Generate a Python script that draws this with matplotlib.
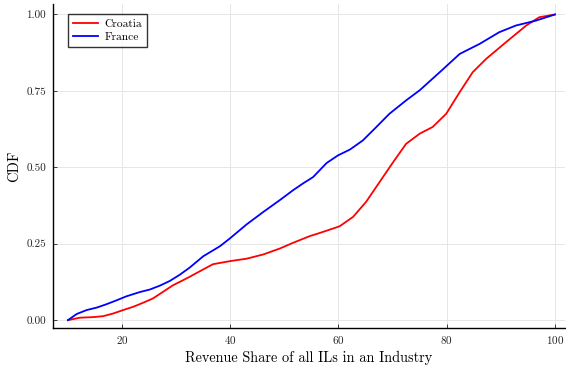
import matplotlib
matplotlib.use("Agg")
import matplotlib.pyplot as plt
from matplotlib.ticker import FormatStrFormatter

plt.rcParams['font.family'] = ['cmr10', 'DejaVu Serif']
plt.rcParams['mathtext.fontset'] = 'cm'
plt.rcParams['axes.formatter.use_mathtext'] = True

# smoothed empirical CDFs of revenue share
croatia_x = [10, 12.2, 14.7, 16.5, 18.4, 20.2, 22.1, 23.9, 25.7, 27.6, 29.4, 31.3, 32.5,
             35.0, 36.8, 39.9, 43.0, 46.1, 49.1, 51.6, 54.7, 56.5, 60.2, 62.7, 65.1,
             67.6, 70.1, 72.5, 75.0, 77.4, 79.9, 82.4, 84.8, 87.3, 91.0, 94.7, 97.1, 100]
croatia_y = [0, 0.008, 0.010, 0.013, 0.022, 0.033, 0.044, 0.057, 0.071, 0.093, 0.114,
             0.131, 0.142, 0.166, 0.183, 0.193, 0.201, 0.215, 0.234, 0.253, 0.275, 0.285,
             0.307, 0.338, 0.387, 0.452, 0.517, 0.577, 0.610, 0.632, 0.675, 0.746, 0.811,
             0.855, 0.910, 0.964, 0.991, 1.0]
france_x = [10, 11.6, 13.45, 15.3, 17.1, 19.0, 20.8, 23.3, 25.1, 27.0, 28.8, 30.7, 32.5,
            35.0, 38.1, 39.9, 43.0, 46.1, 49.1, 51.6, 53.5, 55.3, 57.8, 59.9, 62.1, 64.5,
            67.0, 69.4, 72.5, 75.0, 78.7, 82.4, 86.1, 89.7, 92.8, 96.5, 100]
france_y = [0, 0.020, 0.033, 0.041, 0.052, 0.065, 0.078, 0.092, 0.100, 0.113, 0.128,
            0.149, 0.172, 0.209, 0.242, 0.267, 0.313, 0.354, 0.392, 0.425, 0.448, 0.468,
            0.514, 0.539, 0.558, 0.588, 0.632, 0.675, 0.719, 0.752, 0.811, 0.871, 0.904,
            0.942, 0.964, 0.980, 1.0]

x_ticks = [20, 40, 60, 80, 100]
y_ticks = [0.0, 0.25, 0.5, 0.75, 1.0]

fig = plt.figure(figsize=(5.66, 3.67), dpi=100)
ax = fig.add_axes([0.0936, 0.106, 0.905, 0.882])

ax.plot(croatia_x, croatia_y, color='#ff0000', lw=1.3, label='Croatia',
        solid_joinstyle='round')
ax.plot(france_x, france_y, color='#0000ff', lw=1.3, label='France',
        solid_joinstyle='round')

ax.set_xlim(7.23, 101.9)
ax.set_ylim(-0.026, 1.033)
ax.set_xticks(x_ticks)
ax.set_yticks(y_ticks)
ax.yaxis.set_major_formatter(FormatStrFormatter('%.2f'))
ax.grid(True, color='#e6e6e6', lw=0.7)
ax.set_axisbelow(True)

for side in ['top', 'right']:
    ax.spines[side].set_visible(False)
for side in ['left', 'bottom']:
    ax.spines[side].set_linewidth(1.0)
ax.tick_params(direction='in', length=3, width=0.6, labelsize=8, colors='#222222', pad=4)
ax.tick_params(axis='y', pad=5)

ax.set_xlabel('Revenue Share of all ILs in an Industry', fontsize=10.3, labelpad=4)
ax.set_ylabel('CDF', fontsize=10.5, labelpad=4)

leg = ax.legend(loc='upper left', bbox_to_anchor=(0.018, 0.988), fontsize=8.3,
                frameon=True, fancybox=False, edgecolor='black', handlelength=2.2,
                borderpad=0.4, labelspacing=0.3, handletextpad=0.6)
leg.get_frame().set_linewidth(1.0)

plt.savefig('out.png', dpi=100)
